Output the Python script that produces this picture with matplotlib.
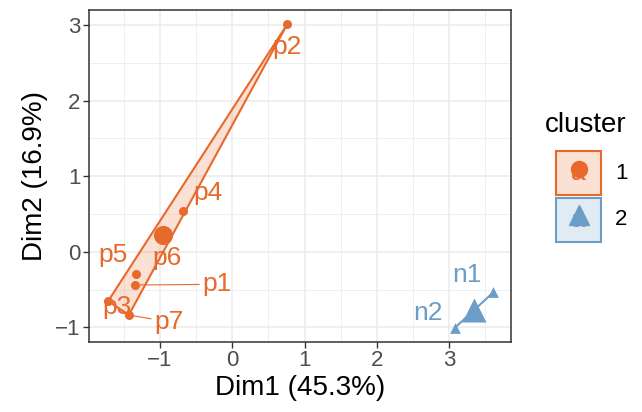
import numpy as np
import matplotlib
matplotlib.use("Agg")
import matplotlib.pyplot as plt
from matplotlib.patches import Polygon, Rectangle
from matplotlib.ticker import MultipleLocator

plt.rcParams['font.family'] = ['Liberation Sans', 'DejaVu Sans']

# data
names = ['p1', 'p2', 'p3', 'p4', 'p5', 'p6', 'p7', 'n1', 'n2']
dim1 = [-1.345, 0.76, -1.715, -0.686, -1.33, -0.932, -1.43, 3.61, 3.08]
dim2 = [-0.44, 3.01, -0.652, 0.538, -0.295, 0.216, -0.837, -0.537, -1.005]
cluster = [1, 1, 1, 1, 1, 1, 1, 2, 2]

cluster_ids = [1, 2]
colors = {1: '#E7692B', 2: '#6C9DC7'}
markers = {1: 'o', 2: '^'}

# repelled label offsets (data units), segment only for far-away labels
label_offset = {
    'p1': (1.13, 0.01), 'p2': (0.0, -0.30), 'p3': (0.116, -0.075),
    'p4': (0.354, 0.238), 'p5': (-0.318, 0.25), 'p6': (0.03, -0.30),
    'p7': (0.55, -0.09), 'n1': (-0.368, 0.229), 'n2': (-0.373, 0.194),
}
with_segment = {'p1', 'p7'}

LABEL_FS = 19
TICK_FS = 16
TITLE_FS = 20


def convex_hull(pts):
    pts = sorted(set(map(tuple, pts)))
    if len(pts) < 3:
        return pts

    def cross(o, a, b):
        return (a[0] - o[0]) * (b[1] - o[1]) - (a[1] - o[1]) * (b[0] - o[0])

    lower, upper = [], []
    for p in pts:
        while len(lower) >= 2 and cross(lower[-2], lower[-1], p) <= 0:
            lower.pop()
        lower.append(p)
    for p in reversed(pts):
        while len(upper) >= 2 and cross(upper[-2], upper[-1], p) <= 0:
            upper.pop()
        upper.append(p)
    return lower[:-1] + upper[:-1]


fig = plt.figure(figsize=(6.42, 4.12), dpi=100)
ax = fig.add_axes([89 / 642, 70.3 / 412, 422 / 642, 331.7 / 412])

x = np.array(dim1)
y = np.array(dim2)
cl = np.array(cluster)

for c in cluster_ids:
    m = cl == c
    pts = np.column_stack([x[m], y[m]])
    hull = convex_hull(pts)
    ax.add_patch(Polygon(hull, closed=True, facecolor=colors[c], alpha=0.2,
                         edgecolor='none', zorder=2))
    ax.add_patch(Polygon(hull, closed=True, facecolor='none',
                         edgecolor=colors[c], lw=1.5, zorder=3))
    ax.scatter(x[m], y[m], s=42 if c == 1 else 60, marker=markers[c],
               color=colors[c], linewidths=0, zorder=4)
    cx, cy = pts.mean(axis=0)
    ax.scatter([cx], [cy], s=190 if c == 1 else 300, marker=markers[c],
               color=colors[c], linewidths=0, zorder=4)

for name, xi, yi, c in zip(names, dim1, dim2, cluster):
    dx, dy = label_offset[name]
    if name in with_segment:
        ax.annotate(name, xy=(xi, yi), xytext=(xi + dx, yi + dy),
                    ha='center', va='center', fontsize=LABEL_FS, color=colors[c],
                    arrowprops=dict(arrowstyle='-', color=colors[c], lw=0.8,
                                    shrinkA=0, shrinkB=0), zorder=5)
    else:
        ax.text(xi + dx, yi + dy, name, ha='center', va='center',
                fontsize=LABEL_FS, color=colors[c], zorder=5)

ax.set_xlim(-1.98, 3.855)
ax.set_ylim(-1.19, 3.20)
ax.xaxis.set_major_locator(MultipleLocator(1))
ax.yaxis.set_major_locator(MultipleLocator(1))
ax.xaxis.set_minor_locator(MultipleLocator(0.5))
ax.yaxis.set_minor_locator(MultipleLocator(0.5))
ax.grid(True, which='major', color='#EBEBEB', lw=1.1, zorder=0)
ax.grid(True, which='minor', color='#EBEBEB', lw=0.55, zorder=0)
ax.set_axisbelow(True)
ax.tick_params(which='major', length=4, width=1, color='#333333',
               labelsize=TICK_FS, labelcolor='#4D4D4D', pad=2)
ax.tick_params(which='minor', length=0)
for s in ax.spines.values():
    s.set_color('#333333')
    s.set_linewidth(1.1)

fmt = lambda v, p: f'\u2212{abs(int(v))}' if v < 0 else f'{int(v)}'
ax.xaxis.set_major_formatter(plt.FuncFormatter(fmt))
ax.yaxis.set_major_formatter(plt.FuncFormatter(fmt))

ax.set_xlabel('Dim1 (45.3%)', fontsize=TITLE_FS, labelpad=3)
ax.set_ylabel('Dim2 (16.9%)', fontsize=TITLE_FS, labelpad=5)

# legend drawn by hand
fig.text(545 / 642, 1 - 125 / 412, 'cluster', fontsize=TITLE_FS, ha='left', va='center')
for i, c in enumerate(cluster_ids):
    x0 = 556 / 642
    y0 = 1 - (195 + i * 46.5) / 412
    w = 45 / 642
    h = 44 / 412
    fig.patches.append(Rectangle((x0, y0), w, h, transform=fig.transFigure,
                                 facecolor=colors[c], alpha=0.2, edgecolor='none'))
    fig.patches.append(Rectangle((x0, y0), w, h, transform=fig.transFigure,
                                 facecolor='none', edgecolor=colors[c], lw=1.5))
    kx, ky = x0 + w / 2, y0 + h / 2
    fig.text(kx, ky, 'a', fontsize=LABEL_FS, color=colors[c],
             ha='center', va='center')
    fig.add_artist(plt.Line2D([kx], [ky + 0.01], marker=markers[c],
                              markersize=11.5 if c == 1 else 14.5,
                              color=colors[c], lw=0, transform=fig.transFigure))
    fig.text(615 / 642, ky, str(c), fontsize=TICK_FS, ha='left', va='center')

fig.savefig('out.png', dpi=100)
